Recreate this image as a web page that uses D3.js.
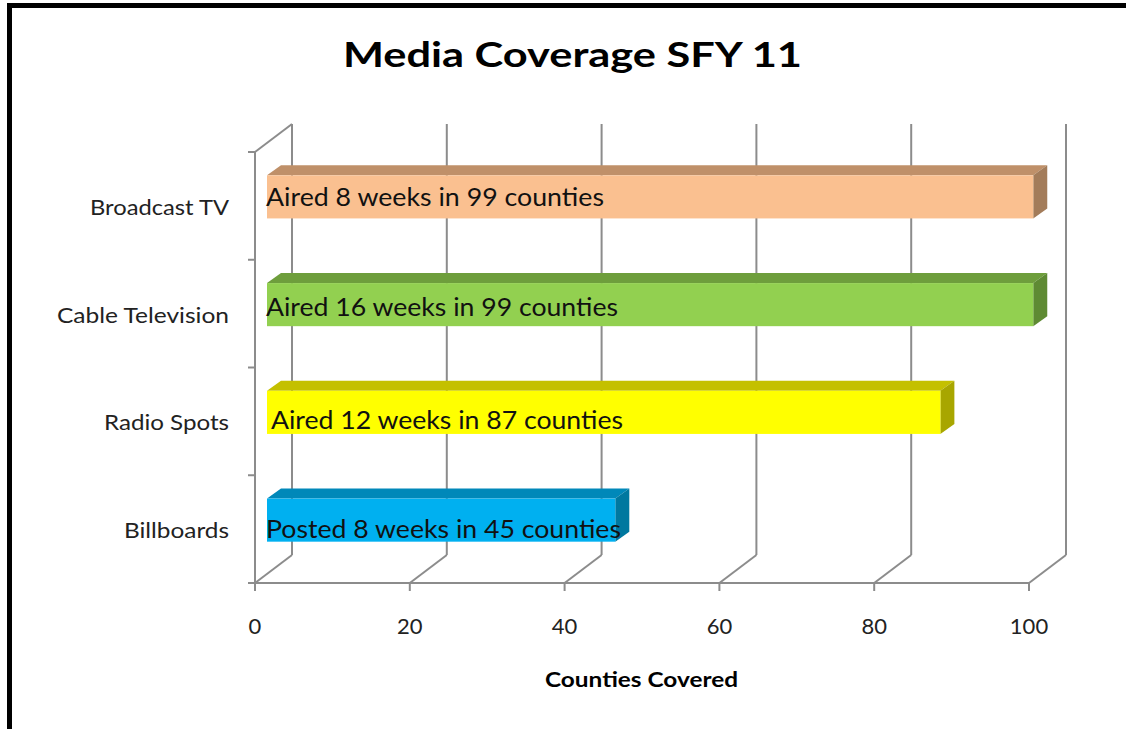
<!DOCTYPE html>
<html>
<head>
<meta charset="utf-8">
<script src="https://cdn.jsdelivr.net/npm/d3@7"></script>
<style>
  html, body { margin: 0; padding: 0; background: #fff; }
  svg { display: block; }
  text { font-family: "Lato", "Open Sans", sans-serif; fill: #111; }
</style>
</head>
<body>
<svg id="chart" width="1126" height="729"></svg>
<script>
// ---- data ----
const categories = ["Broadcast TV", "Cable Television", "Radio Spots", "Billboards"];
const counties   = [99, 99, 87, 45];
const barLabels  = ["Aired 8 weeks in 99 counties", "Aired 16 weeks in 99 counties",
                    "Aired 12 weeks in 87 counties", "Posted 8 weeks in 45 counties"];
const xTicks     = [0, 20, 40, 60, 80, 100];
const title      = "Media Coverage SFY 11";
const xTitle     = "Counties Covered";

// ---- styles ----
const faceColors = [
  { front: "#FAC090", top: "#BF9069", side: "#A37C5A" },
  { front: "#92D050", top: "#6E9E3C", side: "#5E8A33" },
  { front: "#FFFF00", top: "#C4C000", side: "#A8A600" },
  { front: "#00B0F0", top: "#0088B9", side: "#00789F" }
];
const labelShift  = [0, 2, 8, 9];
const labelDX     = [0, 0, 5, 0];
const labelWidths = [338, 352, 352, 355];
const catWidths   = [139, 172, 125, 105];

const svg = d3.select("#chart");
const DX = 37, DY = -28;          // depth of the 3D box
const BX = 12, BY = -9;           // bar front-face offset inside the depth
const BDX = 14, BDY = -10;        // bar depth
const grid = "#8c8c8c";

const x = d3.scaleLinear().domain([0, 100]).range([255, 1029]);
const y = d3.scaleBand().domain(categories).range([152, 583]).padding(0);
const yTop = 152, yBot = 583;

// border
svg.append("path").attr("d", "M9.5,729 V5.5 H1126")
  .attr("fill", "none").attr("stroke", "#000").attr("stroke-width", 5);

// title
svg.append("text").attr("x", 343).attr("y", 67)
  .attr("textLength", 459).attr("lengthAdjust", "spacingAndGlyphs")
  .style("font-size", "34px").style("font-weight", "bold").style("fill", "#000")
  .text(title);

// back wall gridlines + floor diagonals
const g = svg.append("g").attr("stroke", grid).attr("stroke-width", 2).attr("fill", "none");
xTicks.forEach(t => {
  g.append("line").attr("x1", x(t) + DX).attr("x2", x(t) + DX)
    .attr("y1", yTop + DY).attr("y2", yBot + DY);
  g.append("line").attr("x1", x(t)).attr("y1", yBot)
    .attr("x2", x(t) + DX).attr("y2", yBot + DY);
  g.append("line").attr("x1", x(t)).attr("x2", x(t))
    .attr("y1", yBot).attr("y2", yBot + 8);
});
// left wall top diagonal
g.append("line").attr("x1", x(0)).attr("y1", yTop)
  .attr("x2", x(0) + DX).attr("y2", yTop + DY);
// front axes
g.append("line").attr("x1", x(0)).attr("x2", x(0)).attr("y1", yTop).attr("y2", yBot);
g.append("line").attr("x1", x(0)).attr("x2", x(100)).attr("y1", yBot).attr("y2", yBot);
// y ticks at band boundaries
const bounds = categories.map(c => y(c)).concat([yBot]);
bounds.forEach(b => {
  g.append("line").attr("x1", x(0) - 7).attr("x2", x(0)).attr("y1", b).attr("y2", b);
});

// bars
const barH = y.bandwidth() * 0.4;
categories.forEach((c, i) => {
  const x0 = x(0) + BX, x1 = x(counties[i]) + BX;
  const yc = y(c) + y.bandwidth() / 2 + BY;
  const y0 = yc - barH / 2, y1 = yc + barH / 2;
  const col = faceColors[i];
  const bg = svg.append("g");
  // top face
  bg.append("path").attr("fill", col.top)
    .attr("d", `M${x0},${y0} L${x0 + BDX},${y0 + BDY} L${x1 + BDX},${y0 + BDY} L${x1},${y0} Z`);
  // side face
  bg.append("path").attr("fill", col.side)
    .attr("d", `M${x1},${y0} L${x1 + BDX},${y0 + BDY} L${x1 + BDX},${y1 + BDY} L${x1},${y1} Z`);
  // front face
  bg.append("rect").attr("x", x0).attr("y", y0).attr("width", x1 - x0).attr("height", y1 - y0)
    .attr("fill", col.front);
  // label
  svg.append("text").attr("x", x0 - 1 + labelDX[i]).attr("y", yc + 9 + labelShift[i])
    .attr("textLength", labelWidths[i]).attr("lengthAdjust", "spacingAndGlyphs")
    .style("font-size", "25px").text(barLabels[i]);
});

// category labels
categories.forEach((c, i) => {
  svg.append("text").attr("x", 229 - catWidths[i]).attr("y", y(c) + y.bandwidth() / 2 + 9)
    .attr("textLength", catWidths[i]).attr("lengthAdjust", "spacingAndGlyphs")
    .style("font-size", "21px").style("fill", "#222").text(c);
});

// x tick labels
xTicks.forEach(t => {
  svg.append("text").attr("x", x(t)).attr("y", 634).attr("text-anchor", "middle")
    .style("font-size", "22px").style("fill", "#222").text(t);
});

// x axis title
svg.append("text").attr("x", 545).attr("y", 687)
  .attr("textLength", 193).attr("lengthAdjust", "spacingAndGlyphs")
  .style("font-size", "21px").style("font-weight", "bold").style("fill", "#000").text(xTitle);
</script>
</body>
</html>
